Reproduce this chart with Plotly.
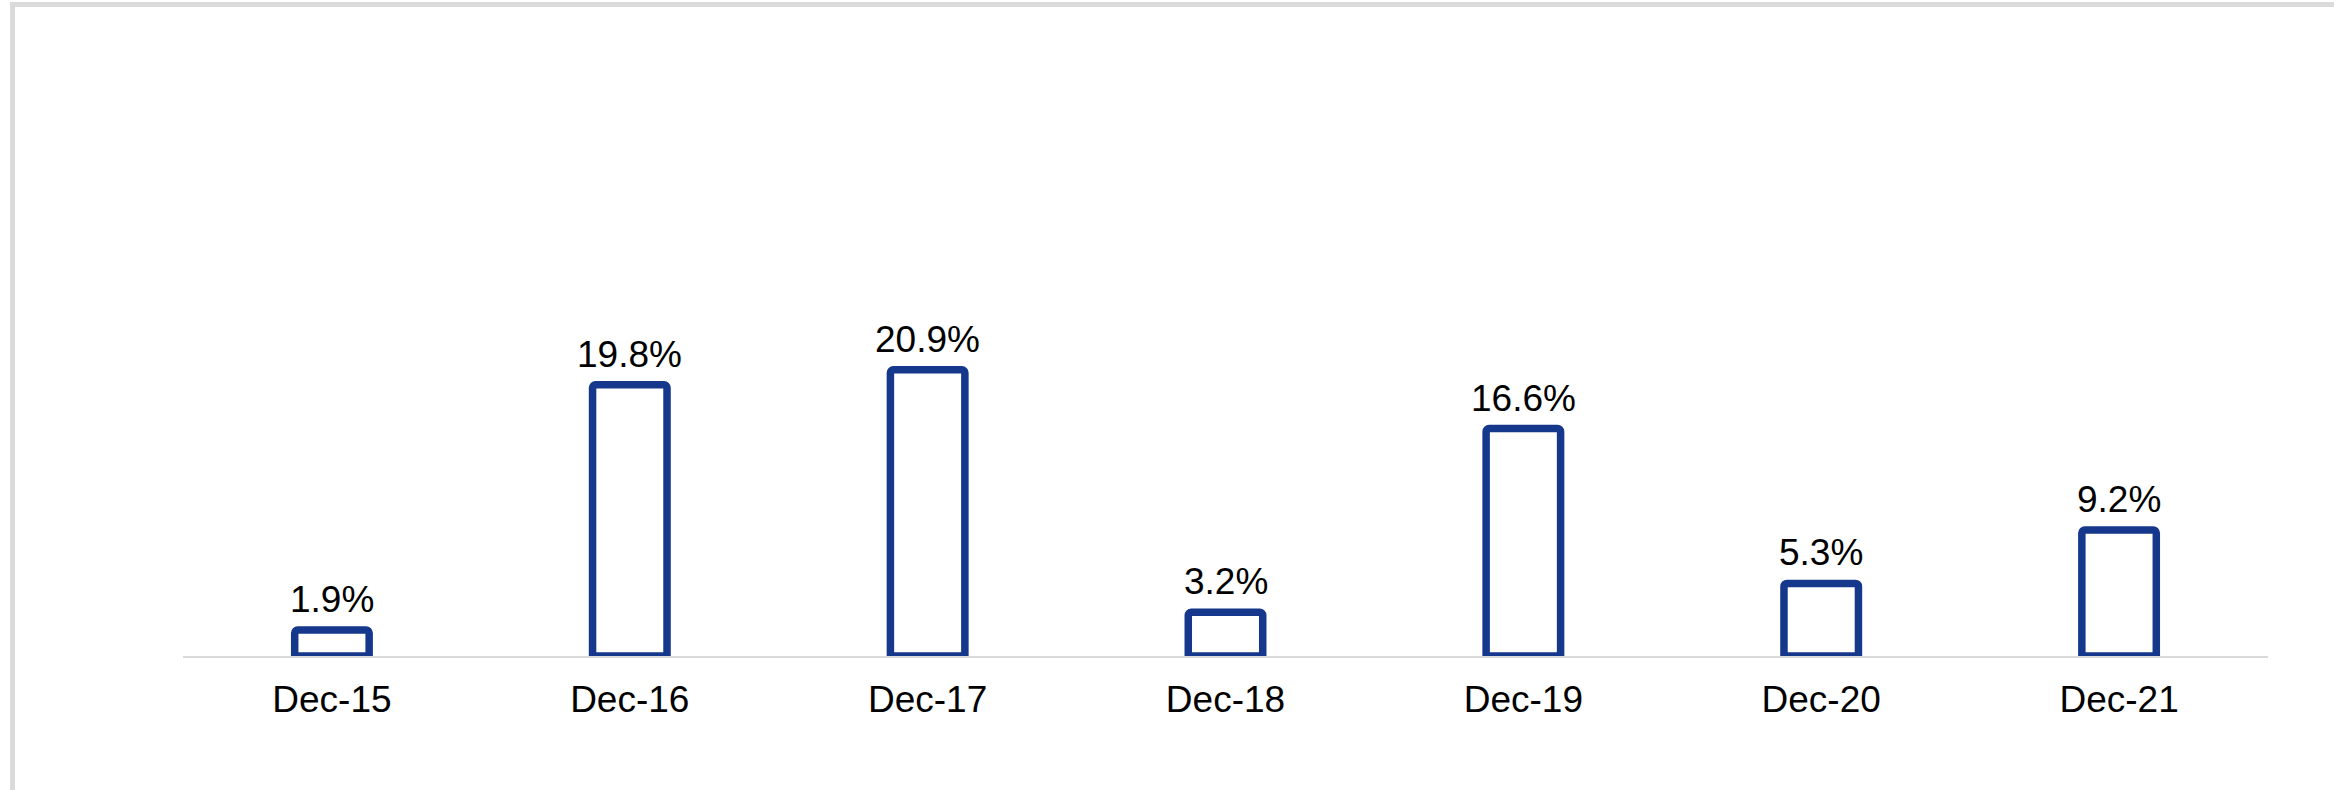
import plotly.graph_objects as go

categories = ["Dec-15", "Dec-16", "Dec-17", "Dec-18", "Dec-19", "Dec-20", "Dec-21"]
values = [1.9, 19.8, 20.9, 3.2, 16.6, 5.3, 9.2]
labels = ["1.9%", "19.8%", "20.9%", "3.2%", "16.6%", "5.3%", "9.2%"]

W, H = 2334, 790
ML, MR, MT, MB = 183, 66, 80, 134
PW, PH = W - ML - MR, H - MT - MB
BLUE = "#15378C"
FONT = "Liberation Sans, Arial, sans-serif"

fig = go.Figure()
fig.add_trace(go.Bar(
    x=categories, y=values,
    marker=dict(color="white", line=dict(color=BLUE, width=7.5), cornerradius=3),
    hoverinfo="skip",
))

for c, v, t in zip(categories, values, labels):
    fig.add_annotation(x=c, y=v, text=t, showarrow=False, yanchor="bottom",
                       yshift=8, font=dict(family=FONT, size=37, color="#000000"))

def px_to_paper_x(px):
    return (px - ML) / PW

def px_to_paper_y(py):
    return (H - MB - py) / PH

# light grey frame (left and top edges)
fig.add_shape(type="line", xref="paper", yref="paper",
              x0=px_to_paper_x(12.5), x1=px_to_paper_x(12.5),
              y0=px_to_paper_y(4), y1=px_to_paper_y(H + 5),
              line=dict(color="#dadada", width=5))
fig.add_shape(type="line", xref="paper", yref="paper",
              x0=px_to_paper_x(10), x1=px_to_paper_x(W + 5),
              y0=px_to_paper_y(4.5), y1=px_to_paper_y(4.5),
              line=dict(color="#dadada", width=5))

fig.update_layout(
    width=W, height=H,
    margin=dict(l=ML, r=MR, t=MT, b=MB),
    paper_bgcolor="white", plot_bgcolor="white",
    bargap=0.75,
    showlegend=False,
    font=dict(family=FONT, size=37, color="#000000"),
)
fig.update_xaxes(showline=True, linecolor="#d9d9d9", linewidth=2, showgrid=False,
                 ticks="", ticklabelstandoff=10,
                 tickfont=dict(family=FONT, size=37, color="#000000"))
fig.update_yaxes(range=[0, PH / 13.7], visible=False, showgrid=False, zeroline=False)

fig.write_html("out.html",
               config={"displayModeBar": False, "staticPlot": True},
               post_script="document.body.style.margin='0';document.body.style.overflow='hidden';")
